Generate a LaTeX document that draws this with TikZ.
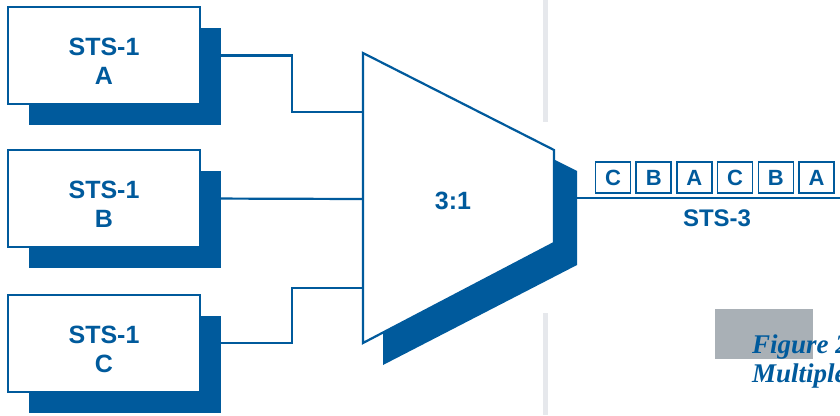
\documentclass[tikz,border=0pt]{standalone}
\usepackage{fontspec}
\setmainfont{Liberation Sans}
\newfontfamily\captionserif{Liberation Serif}
\usetikzlibrary{shadows,backgrounds}

\definecolor{stsblue}{RGB}{0,90,156}
\definecolor{rulegray}{RGB}{230,232,236}
\definecolor{tabgray}{RGB}{169,176,182}

\tikzset{
  stsbox/.style={draw=stsblue, line width=2pt, fill=white,
    minimum width=192pt, minimum height=97pt,
    general shadow={fill=stsblue, shadow xshift=21pt, shadow yshift=-21pt}},
  boxtext/.style={align=center, yshift=-6pt, text=stsblue,
    font=\fontsize{25}{29}\selectfont\bfseries},
  slotbox/.style={draw=stsblue, line width=1.6pt, fill=white,
    minimum width=35pt, minimum height=31pt, inner sep=0pt,
    text=stsblue, font=\fontsize{22}{22}\selectfont\bfseries},
  wire/.style={draw=stsblue, line width=2.2pt},
  bluelabel/.style={text=stsblue, font=\fontsize{24}{24}\selectfont\bfseries},
  captext/.style={anchor=base west, inner sep=0pt, text=stsblue,
    font=\fontsize{27}{29}\selectfont\captionserif\bfseries\itshape},
}

\begin{document}
\begin{tikzpicture}[x=1pt, y=-1pt]
\useasboundingbox (0,0) rectangle (840,415);

% light grey rule behind the mux
\fill[rulegray] (543,0) rectangle (548,122);
\fill[rulegray] (543,313) rectangle (548,415);

% the three STS-1 tributaries
\node[stsbox, label={[boxtext]center:{STS-1\\A}}] (boxa) at (104,55.5) {};
\node[stsbox, label={[boxtext]center:{STS-1\\B}}] (boxb) at (104,198.5) {};
\node[stsbox, label={[boxtext]center:{STS-1\\C}}] (boxc) at (104,343) {};

% multiplexer outline
\coordinate (muxnw) at (363,53);
\coordinate (muxne) at (554,150);
\coordinate (muxse) at (554,243);
\coordinate (muxsw) at (363,343);
\fill[stsblue] ([shift={(21,21)}]muxnw) -- ([shift={(23,21)}]muxne)
  -- ([shift={(23,22)}]muxse) -- ([shift={(20,22)}]muxsw) -- cycle;
\draw[wire, fill=white] (muxnw) -- (muxne) -- (muxse) -- (muxsw) -- cycle;
\node[bluelabel, font=\fontsize{25}{25}\selectfont\bfseries] (mux) at (453,201) {3:1};

% inputs and output of the mux
\coordinate (in1) at (363,112);
\coordinate (in2) at (363,199);
\coordinate (in3) at (363,288);
\coordinate (jog1) at (292,112);
\coordinate (jog3) at (292,288);
\coordinate (out) at (577,198);
\coordinate (lineend) at (840,198);

\begin{scope}[on background layer]
  \draw[wire] (boxa.east) -| (jog1) -- (in1);
  \draw[wire] (boxb.east) -- (in2);
  \draw[wire] (boxc.east) -| (jog3) -- (in3);
\end{scope}
\draw[wire] (out) -- (lineend);

% interleaved STS-3 frame
\foreach \l [count=\i] in {C,B,A,C,B,A}
  \node[slotbox] (slot\i) at ({572.3+40.7*\i},177.5) {\l};
\node[bluelabel] (ststhree) at (717,218) {STS-3};

% caption tab
\fill[tabgray] (715,309) rectangle (813,359);
\node[captext] (captop) at (752,353) {Figure 2};
\node[captext] (capbottom) at (752,382) {Multiplexing};
\end{tikzpicture}
\end{document}
